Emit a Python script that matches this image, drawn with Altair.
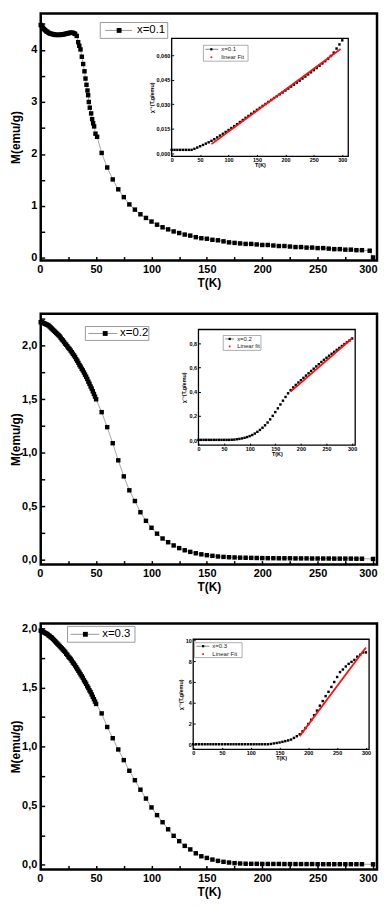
import altair as alt
import pandas as pd

FONT = "Liberation Sans"

# ---------------- shared tick lists / temperature grids ----------------
XTICKS = [0, 25, 50, 75, 100, 125, 150, 175, 200, 225, 250, 275, 300]
INSET_XTICKS = [0, 50, 100, 150, 200, 250, 300]

T_DENSE = [0, 1, 2, 3, 4, 5, 6, 7, 8, 9, 10, 11, 12, 13, 14, 15, 16, 17, 18, 19, 20,
           21, 22, 23, 24, 25, 26, 27, 28, 29, 30, 31, 32, 33, 34, 35, 36, 37, 38, 39, 40,
           41, 42, 43, 44, 45, 46, 47, 48, 49, 50]
T_STEP = [55, 60, 65, 70, 75, 80, 85, 90, 95, 100, 105, 110, 115, 120, 125, 130, 135, 140,
          145, 150, 155, 160, 165, 170, 175, 180, 185, 190, 195, 200, 205, 210, 215, 220,
          225, 230, 235, 240, 245, 250, 255, 260, 265, 270, 275, 280, 285, 290]
T_INSET = [0, 5, 10, 15, 20, 25, 30, 35, 40, 45, 50, 55, 60, 65, 70, 75, 80, 85, 90, 95,
           100, 105, 110, 115, 120, 125, 130, 135, 140, 145, 150, 155, 160, 165, 170, 175,
           180, 185, 190, 195, 200, 205, 210, 215, 220, 225, 230, 235, 240, 245, 250, 255,
           260, 265, 270, 275, 280, 285, 290, 295, 300]

# ---------------- panel 1 : x = 0.1 ----------------
M1_LOW = [4.48, 4.46, 4.43, 4.40, 4.38, 4.36, 4.35, 4.33, 4.32, 4.31, 4.31, 4.30, 4.30,
          4.29, 4.29, 4.29, 4.29, 4.29, 4.29, 4.30, 4.30, 4.30, 4.31, 4.31, 4.32, 4.32,
          4.33, 4.33, 4.33, 4.33, 4.32, 4.31]
T1_DROP = [32.5, 33.8, 34.8, 35.9, 37.1, 38.3, 39.5, 40.4, 41.3, 42.2, 42.8, 43.4, 44.3,
           45.5, 46.4, 47.3, 48.2, 49.4, 50.9]
M1_DROP = [4.27, 4.15, 4.08, 4.01, 3.87, 3.73, 3.59, 3.45, 3.33, 3.22, 3.13, 3.00, 2.89,
           2.78, 2.67, 2.59, 2.53, 2.39, 2.33]
M1_STEP = [2.02, 1.74, 1.51, 1.32, 1.17, 1.03, 0.93, 0.84, 0.77, 0.70, 0.64, 0.59, 0.55,
           0.51, 0.48, 0.45, 0.43, 0.40, 0.38, 0.37, 0.35, 0.34, 0.32, 0.30, 0.29, 0.28,
           0.27, 0.27, 0.26, 0.25, 0.25, 0.24, 0.23, 0.23, 0.22, 0.21, 0.21, 0.20, 0.20,
           0.19, 0.19, 0.18, 0.17, 0.17, 0.16, 0.16, 0.15, 0.15]
T1_END = [297, 300]
M1_END = [0.14, 0.01]
INV1 = [0.0022, 0.0022, 0.0022, 0.0022, 0.0022, 0.0022, 0.0022, 0.0022,
        0.0028, 0.0036, 0.0044, 0.0052, 0.0060, 0.0068, 0.0077, 0.0087, 0.0098, 0.0109,
        0.0120, 0.0131, 0.0143, 0.0155, 0.0167, 0.0179, 0.0192, 0.0204, 0.0217, 0.0229,
        0.0242, 0.0254, 0.0266, 0.0278, 0.0290, 0.0302, 0.0314, 0.0326, 0.0338, 0.0349,
        0.0361, 0.0372, 0.0384, 0.0396, 0.0408, 0.0420, 0.0432, 0.0444, 0.0457, 0.0469,
        0.0482, 0.0495, 0.0508, 0.0521, 0.0535, 0.0549, 0.0563, 0.0578, 0.0595, 0.0615,
        0.0640, 0.0665, 0.0690]
FIT1_T = [70, 297]
FIT1_V = [0.0057, 0.0637]

# ---------------- panel 2 : x = 0.2 ----------------
M2_DENSE = [2.22, 2.22, 2.215, 2.21, 2.205, 2.20, 2.195, 2.19, 2.18, 2.17, 2.16, 2.15,
            2.14, 2.13, 2.12, 2.11, 2.10, 2.09, 2.075, 2.06, 2.05, 2.035, 2.02, 2.01,
            1.995, 1.98, 1.97, 1.955, 1.94, 1.925, 1.91, 1.895, 1.875, 1.86, 1.84, 1.82,
            1.805, 1.785, 1.77, 1.75, 1.73, 1.71, 1.69, 1.665, 1.645, 1.62, 1.60, 1.575,
            1.55, 1.525, 1.50]
M2_STEP = [1.38, 1.24, 1.09, 0.93, 0.78, 0.65, 0.55, 0.445, 0.365, 0.30, 0.245, 0.20,
           0.165, 0.135, 0.11, 0.09, 0.075, 0.062, 0.052, 0.044, 0.038, 0.032, 0.028,
           0.025, 0.023, 0.021, 0.020, 0.019, 0.018, 0.017, 0.016, 0.016, 0.015, 0.015,
           0.015, 0.014, 0.014, 0.014, 0.013, 0.013, 0.013, 0.013, 0.012, 0.012, 0.012,
           0.012, 0.011, 0.011]
T2_END = [300]
M2_END = [0.009]
INV2 = [0.002, 0.002, 0.002, 0.002, 0.002, 0.002, 0.002, 0.002, 0.002, 0.002, 0.002,
        0.002, 0.002,
        0.003, 0.004, 0.007, 0.010, 0.014, 0.019, 0.025, 0.033, 0.042, 0.054,
        0.068, 0.084, 0.102, 0.122, 0.145, 0.171, 0.200, 0.231, 0.262, 0.294,
        0.325, 0.356, 0.386, 0.412, 0.435, 0.455, 0.475, 0.494, 0.513, 0.532,
        0.551, 0.570, 0.589, 0.608, 0.626, 0.644, 0.662, 0.679, 0.696, 0.712,
        0.728, 0.744, 0.760, 0.776, 0.792, 0.807, 0.822, 0.838]
FIT2_T = [180, 300]
FIT2_V = [0.40, 0.84]

# ---------------- panel 3 : x = 0.3 ----------------
M3_DENSE = [1.98, 1.975, 1.97, 1.965, 1.96, 1.955, 1.95, 1.94, 1.935, 1.925, 1.92,
            1.91, 1.90, 1.89, 1.88, 1.87, 1.86, 1.85, 1.84, 1.83, 1.82,
            1.81, 1.80, 1.785, 1.775, 1.76, 1.75, 1.74, 1.725, 1.71, 1.70,
            1.685, 1.67, 1.655, 1.64, 1.625, 1.61, 1.595, 1.58, 1.56, 1.545,
            1.53, 1.51, 1.495, 1.475, 1.46, 1.44, 1.42, 1.40, 1.38, 1.36]
M3_STEP = [1.28, 1.165, 1.07, 0.975, 0.885, 0.795, 0.715, 0.635, 0.56, 0.485, 0.42, 0.36,
           0.30, 0.245, 0.20, 0.16, 0.13, 0.097, 0.072, 0.058, 0.044, 0.033, 0.025, 0.019,
           0.014, 0.011, 0.009, 0.008, 0.008, 0.007, 0.007, 0.007, 0.007, 0.006, 0.006,
           0.006, 0.006, 0.006, 0.006, 0.005, 0.005, 0.005, 0.005, 0.005, 0.005, 0.005,
           0.005, 0.005]
T3_END = [300]
M3_END = [0.004]
INV3 = [0.02, 0.02, 0.02, 0.02, 0.02, 0.02, 0.02, 0.02, 0.02, 0.02, 0.02, 0.02, 0.02,
        0.02, 0.02, 0.02, 0.02, 0.02, 0.02, 0.02, 0.02, 0.02, 0.02, 0.02, 0.02, 0.02, 0.02,
        0.05, 0.10, 0.14, 0.19, 0.25, 0.32, 0.39, 0.47, 0.63, 0.79,
        0.98, 1.26, 1.58, 1.96, 2.37, 2.81, 3.25, 3.72, 4.16, 4.64,
        5.05, 5.52, 5.99, 6.47, 6.94, 7.19, 7.48, 7.73, 7.92, 8.11,
        8.42, 8.61, 8.83, 8.83]
FIT3_T = [185, 300]
FIT3_V = [0.80, 9.30]

LABELS = ["x=0.1", "x=0.2", "x=0.3"]
FIT_LABELS = ["linear Fit", "Linear fit", "Linear Fit"]
INSET_YTITLE = "\u03c7\u207b\u00b9(T,g/emu)"

W = 339          # plot width (whole svg must stay within the 371px content box)
XMAX = 303.6     # main temperature axis end
ONE = pd.DataFrame({"k": [0]})


def vrect(x0, x1, y0, y1, **kw):
    return alt.Chart(ONE).mark_rect(**kw).encode(
        x=alt.value(x0), x2=alt.value(x1), y=alt.value(y0), y2=alt.value(y1))


def make_main(T, M, ydom, H, yticks, ylab, lg, label):
    assert len(T) == len(M), (len(T), len(M))
    xs = alt.Scale(domain=[0, XMAX], nice=False, zero=False)
    ys = alt.Scale(domain=ydom, nice=False, zero=False)
    common = dict(domain=False, grid=False, tickColor="black", tickWidth=1.5,
                  labelFont=FONT, labelFontSize=11, labelFontWeight="bold",
                  labelColor="black", labelOverlap=False,
                  titleFont=FONT, titleFontSize=12, titleFontWeight="bold",
                  titleColor="black")
    xax = alt.Axis(title="T(K)", orient="bottom", values=XTICKS,
                   labelExpr="datum.value % 50 == 0 ? datum.label : ''",
                   labelFlush=6, labelFlushOffset=4,
                   offset=-4, tickSize=4, labelPadding=3, titlePadding=3, **common)
    yax = alt.Axis(title="M(emu/g)", orient="left", values=yticks, labelExpr=ylab,
                   labelFlush=False, offset=-4, tickSize=4, labelPadding=4,
                   titleX=-22, **common)
    df = pd.DataFrame({"T": T, "M": M})
    enc = dict(x=alt.X("T:Q", scale=xs, axis=xax), y=alt.Y("M:Q", scale=ys, axis=yax))
    line = alt.Chart(df).mark_line(color="#808080", strokeWidth=0.7).encode(**enc)
    pts = alt.Chart(df).mark_square(size=20, color="black", opacity=1).encode(**enc)
    box = vrect(lg["x0"], lg["x1"], lg["y0"], lg["y1"], fill="white",
                stroke="#9a9a9a", strokeWidth=1)
    rule = alt.Chart(ONE).mark_rule(color="#808080", strokeWidth=0.8).encode(
        x=alt.value(lg["l0"]), x2=alt.value(lg["l1"]), y=alt.value(lg["yc"]))
    sq = alt.Chart(ONE).mark_square(size=24, color="black", opacity=1).encode(
        x=alt.value(lg["sq"]), y=alt.value(lg["yc"]))
    txt = alt.Chart(ONE).mark_text(align="left", baseline="middle", font=FONT,
                                   fontSize=11.5, color="black").encode(
        x=alt.value(lg["tx"]), y=alt.value(lg["yc"]), text=alt.value(label))
    return alt.layer(line, pts, box, rule, sq, txt)


def make_inset(V, fitT, fitV, H, ins, label, fitlabel):
    assert len(V) == len(T_INSET), len(V)
    L, R, B, Tp = ins["L"], ins["R"], ins["B"], ins["T"]
    xs = alt.Scale(domain=[0, ins["xmax"]], range=[L, R], nice=False, zero=False)
    ys = alt.Scale(domain=ins["ydom"], range=[B, Tp], nice=False, zero=False)
    common = dict(domain=False, grid=False, tickColor="black", tickWidth=1,
                  labelFont=FONT, labelFontSize=5.5, labelFontWeight="bold",
                  labelColor="black", labelFlush=False, labelOverlap=False,
                  titleFont=FONT, titleFontSize=5.5, titleFontWeight="bold",
                  titleColor="black")
    xax = alt.Axis(title="T(K)", orient="bottom", values=INSET_XTICKS,
                   offset=(B - 2) - H, tickSize=2, labelPadding=1, titlePadding=0,
                   **common)
    yax = alt.Axis(title=INSET_YTITLE, orient="left", values=ins["yticks"],
                   labelExpr=ins["ylab"], offset=-(L + 2), tickSize=2,
                   labelPadding=2, titlePadding=2, **common)
    df = pd.DataFrame({"T": T_INSET, "V": V})
    fit = pd.DataFrame({"T": fitT, "V": fitV})
    enc = dict(x=alt.X("T:Q", scale=xs, axis=xax), y=alt.Y("V:Q", scale=ys, axis=yax))
    frame = vrect(L, R, Tp, B, fillOpacity=0, stroke="black", strokeWidth=1.3)
    pts = alt.Chart(df).mark_square(size=6, color="black", opacity=1).encode(**enc)
    fitl = alt.Chart(fit).mark_line(color="#ff1010", strokeWidth=1.8).encode(**enc)
    lg = ins["lg"]
    box = vrect(lg["x0"], lg["x1"], lg["y0"], lg["y1"], fill="white",
                stroke="#8a8a8a", strokeWidth=0.7)
    rule = alt.Chart(ONE).mark_rule(color="#333333", strokeWidth=0.6).encode(
        x=alt.value(lg["l0"]), x2=alt.value(lg["l1"]), y=alt.value(lg["r1"]))
    sq = alt.Chart(ONE).mark_square(size=5, color="black", opacity=1).encode(
        x=alt.value(lg["sq"]), y=alt.value(lg["r1"]))
    dot = alt.Chart(ONE).mark_square(size=3, color="#ff1010", opacity=1).encode(
        x=alt.value(lg["sq"]), y=alt.value(lg["r2"]))
    t1 = alt.Chart(ONE).mark_text(align="left", baseline="middle", font=FONT,
                                  fontSize=6, color="#222222").encode(
        x=alt.value(lg["tx"]), y=alt.value(lg["r1"]), text=alt.value(label))
    t2 = alt.Chart(ONE).mark_text(align="left", baseline="middle", font=FONT,
                                  fontSize=6, color="#222222").encode(
        x=alt.value(lg["tx"]), y=alt.value(lg["r2"]), text=alt.value(fitlabel))
    return alt.layer(frame, pts, fitl, box, rule, sq, dot, t1, t2)


def panel(main, inset, H):
    return alt.layer(main, inset).resolve_scale(
        x="independent", y="independent").properties(width=W, height=H)


# ---- panel 1
H1 = 249
p1 = panel(
    make_main(T_DENSE[:32] + T1_DROP + T_STEP + T1_END,
              M1_LOW + M1_DROP + M1_STEP + M1_END,
              [-0.05, 4.7], H1,
              [0, 0.5, 1, 1.5, 2, 2.5, 3, 3.5, 4, 4.5],
              "datum.value % 1 == 0 ? format(datum.value, 'd') : ''",
              dict(x0=60, x1=128, y0=9, y1=25, yc=17, l0=65, l1=92, sq=79, tx=97),
              LABELS[0]),
    make_inset(INV1, FIT1_T, FIT1_V, H1,
               dict(L=132, R=310, T=25, B=144, xmax=310.5, ydom=[-0.0018, 0.0702],
                    yticks=[0, 0.015, 0.03, 0.045, 0.06],
                    ylab="replace(format(datum.value, '.3f'), '.', ',')",
                    lg=dict(x0=164, x1=209, y0=32, y1=48, r1=36, r2=44,
                            l0=166, l1=179, sq=172, tx=182)),
               LABELS[0], FIT_LABELS[0]),
    H1)

# ---- panel 2
H2 = 253
p2 = panel(
    make_main(T_DENSE + T_STEP + T2_END, M2_DENSE + M2_STEP + M2_END,
              [-0.044, 2.30], H2,
              [0, 0.25, 0.5, 0.75, 1, 1.25, 1.5, 1.75, 2, 2.25],
              "datum.value % 0.5 == 0 ? replace(format(datum.value, '.1f'), '.', ',') : ''",
              dict(x0=45, x1=109, y0=13, y1=27, yc=20, l0=48, l1=77, sq=65, tx=80),
              LABELS[1]),
    make_inset(INV2, FIT2_T, FIT2_V, H2,
               dict(L=159, R=317, T=16, B=132.5, xmax=306, ydom=[-0.041, 0.912],
                    yticks=[0, 0.2, 0.4, 0.6, 0.8],
                    ylab="replace(format(datum.value, '.1f'), '.', ',')",
                    lg=dict(x0=184, x1=222, y0=22, y1=37, r1=25.5, r2=33,
                            l0=186, l1=195, sq=190.5, tx=198)),
               LABELS[1], FIT_LABELS[1]),
    H2)

# ---- panel 3
H3 = 248
p3 = panel(
    make_main(T_DENSE + T_STEP + T3_END, M3_DENSE + M3_STEP + M3_END,
              [-0.039, 2.041], H3,
              [0, 0.25, 0.5, 0.75, 1, 1.25, 1.5, 1.75, 2],
              "datum.value % 0.5 == 0 ? replace(format(datum.value, '.1f'), '.', ',') : ''",
              dict(x0=27, x1=95, y0=3, y1=19, yc=11, l0=30, l1=59, sq=45, tx=62),
              LABELS[2]),
    make_inset(INV3, FIT3_T, FIT3_V, H3,
               dict(L=153.7, R=331, T=16, B=127, xmax=305.5, ydom=[-0.47, 10.09],
                    yticks=[0, 2, 4, 6, 8, 10],
                    ylab="format(datum.value, 'd')",
                    lg=dict(x0=155, x1=203, y0=19.5, y1=34.5, r1=23, r2=31,
                            l0=157, l1=170, sq=163.7, tx=173)),
               LABELS[2], FIT_LABELS[2]),
    H3)

top = alt.vconcat(p1, p2, spacing=21.5).resolve_scale(x="independent", y="independent")
chart = (
    alt.vconcat(top, p3, spacing=26.75)
    .resolve_scale(x="independent", y="independent")
    .properties(padding={"left": 0, "top": 0, "right": 0, "bottom": 0},
                background="white")
    .configure_view(stroke="black", strokeWidth=2.5, fill="white")
)

chart.save("out.html", embed_options={"renderer": "svg", "actions": False})
